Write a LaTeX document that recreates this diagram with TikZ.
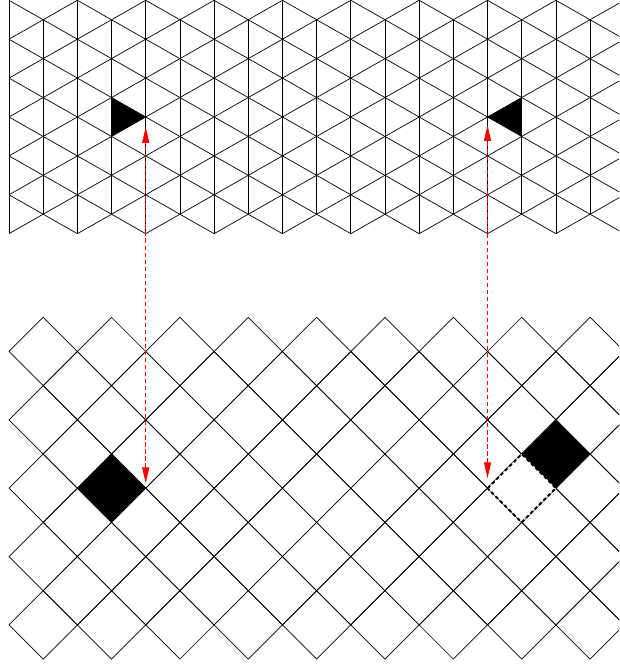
\documentclass[tikz,border=0pt]{standalone}
\usepackage{tikz}
\usetikzlibrary{arrows.meta}

\begin{document}
\begin{tikzpicture}[x=0.6836cm, y=0.6836cm,
    link/.style={draw=red, line width=0.6pt, dash pattern=on 2.4pt off 1.6pt,
      {Triangle[length=9pt,width=4pt,fill=red]}-{Triangle[length=9pt,width=4pt,fill=red]}},
    hole/.style={fill=white, line width=1.1pt, dash pattern=on 2pt off 1.5pt}]
  \useasboundingbox (-0.2633,0) rectangle (17.847,19.485);

  \begin{scope}
    \clip (-0.2633,0) rectangle (17.847,19.485);
    % ---- triangular lattice: vertical lines ----
    \foreach \k in {0,2,...,18} {
      \draw (\k,12.648) -- (\k,19.476);
    }
    \foreach \k in {1,3,...,17} {
      \draw (\k,13.217) -- (\k,18.907);
    }
    % ---- triangular lattice: zigzag between columns k and k+1 ----
    \foreach \k in {0,...,17} {
      \foreach \t in {0,...,11} {
        \pgfmathsetmacro{\xa}{\k+mod(\t+\k,2)}
        \pgfmathsetmacro{\xb}{\k+mod(\t+\k+1,2)}
        \draw (\xa,12.648+0.569*\t) -- (\xb,13.217+0.569*\t);
      }
    }

    % ---- square lattice (turned by 45 degrees) ----
    \foreach \r in {1,3,...,9} {
      \foreach \k in {1,3,...,17} {
        \draw (\k-1,0.202+\r) -- (\k,1.202+\r) -- (\k+1,0.202+\r) -- (\k,\r-0.798) -- cycle;
      }
    }
    \foreach \r in {2,4,...,8} {
      \foreach \k in {2,4,...,18} {
        \draw (\k-1,0.202+\r) -- (\k,1.202+\r) -- (\k+1,0.202+\r) -- (\k,\r-0.798) -- cycle;
      }
    }
  \end{scope}

  % ---- marked cells ----
  \fill (3,15.493) -- (4,16.062) -- (3,16.631) -- cycle;
  \fill (15,15.493) -- (14,16.062) -- (15,16.631) -- cycle;
  \fill (2,5.202) -- (3,6.202) -- (4,5.202) -- (3,4.202) -- cycle;
  \fill (15,6.202) -- (16,7.202) -- (17,6.202) -- (16,5.202) -- cycle;
  \draw[hole] (14,5.202) -- (15,6.202) -- (16,5.202) -- (15,4.202) -- cycle;

  % ---- links between the two lattices ----
  \coordinate (triL) at (4,16.062);
  \coordinate (sqL) at (4,5.202);
  \coordinate (triR) at (14,16.062);
  \coordinate (sqR) at (14,5.202);
  \draw[link, shorten <=0.1cm, shorten >=0.2cm] (sqL) -- (triL);
  \draw[link, shorten <=0.2cm, shorten >=0.16cm] (sqR) -- (triR);
\end{tikzpicture}
\end{document}
